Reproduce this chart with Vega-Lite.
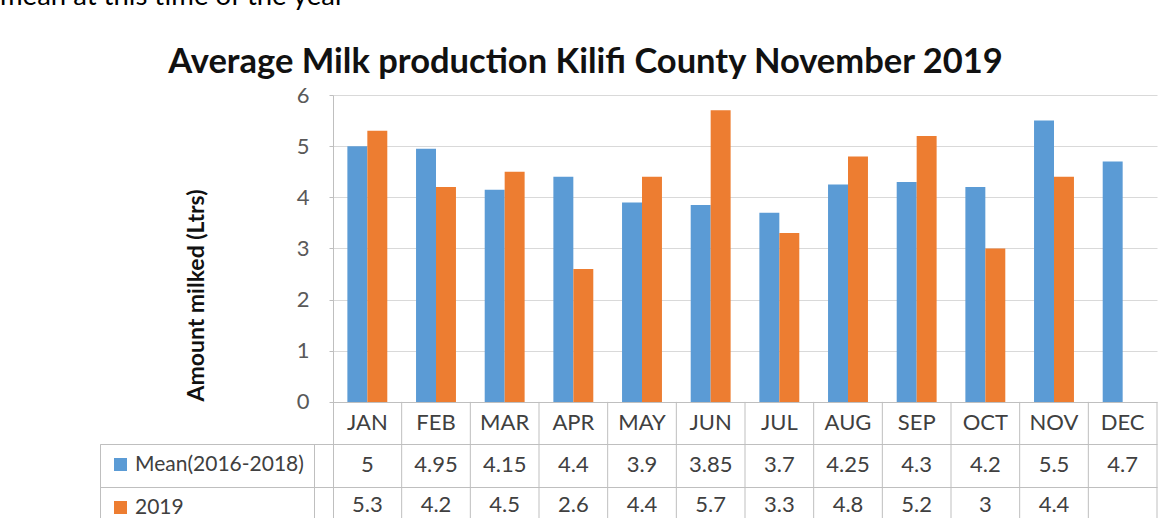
{
  "$schema": "https://vega.github.io/schema/vega-lite/v6.json",
  "width": 824,
  "height": 423,
  "autosize": {"type": "none"},
  "padding": {"left": 333, "top": 95, "right": 16, "bottom": 0},
  "background": "white",
  "title": {
    "text": "mean at this time of the year",
    "anchor": "start",
    "frame": "group",
    "orient": "top",
    "font": "Lato",
    "fontSize": 27.5,
    "fontWeight": "normal",
    "color": "#000000",
    "dx": -333,
    "offset": 12,
    "baseline": "alphabetic"
  },
  "data": {
    "values": [
      {"month": "JAN", "series": "Mean(2016-2018)", "value": 5},
      {"month": "FEB", "series": "Mean(2016-2018)", "value": 4.95},
      {"month": "MAR", "series": "Mean(2016-2018)", "value": 4.15},
      {"month": "APR", "series": "Mean(2016-2018)", "value": 4.4},
      {"month": "MAY", "series": "Mean(2016-2018)", "value": 3.9},
      {"month": "JUN", "series": "Mean(2016-2018)", "value": 3.85},
      {"month": "JUL", "series": "Mean(2016-2018)", "value": 3.7},
      {"month": "AUG", "series": "Mean(2016-2018)", "value": 4.25},
      {"month": "SEP", "series": "Mean(2016-2018)", "value": 4.3},
      {"month": "OCT", "series": "Mean(2016-2018)", "value": 4.2},
      {"month": "NOV", "series": "Mean(2016-2018)", "value": 5.5},
      {"month": "DEC", "series": "Mean(2016-2018)", "value": 4.7},
      {"month": "JAN", "series": "2019", "value": 5.3},
      {"month": "FEB", "series": "2019", "value": 4.2},
      {"month": "MAR", "series": "2019", "value": 4.5},
      {"month": "APR", "series": "2019", "value": 2.6},
      {"month": "MAY", "series": "2019", "value": 4.4},
      {"month": "JUN", "series": "2019", "value": 5.7},
      {"month": "JUL", "series": "2019", "value": 3.3},
      {"month": "AUG", "series": "2019", "value": 4.8},
      {"month": "SEP", "series": "2019", "value": 5.2},
      {"month": "OCT", "series": "2019", "value": 3},
      {"month": "NOV", "series": "2019", "value": 4.4},
      {"month": "DEC", "series": "2019", "value": null}
    ]
  },
  "encoding": {
    "x": {
      "field": "month",
      "type": "nominal",
      "sort": ["JAN","FEB","MAR","APR","MAY","JUN","JUL","AUG","SEP","OCT","NOV","DEC"],
      "scale": {"paddingInner": 0, "paddingOuter": 0},
      "axis": {
        "orient": "top",
        "labels": false,
        "ticks": false,
        "domain": false,
        "grid": false,
        "title": "Average Milk production Kilifi County November 2019",
        "titleFont": "Lato",
        "titleFontSize": 34.5,
        "titleFontWeight": "bold",
        "titleColor": "#111111",
        "titleX": 252,
        "titleY": -23,
        "titleAlign": "center",
        "titleBaseline": "alphabetic"
      }
    }
  },
  "layer": [
    {
      "mark": {"type": "bar"},
      "encoding": {
        "xOffset": {
          "field": "series",
          "sort": ["Mean(2016-2018)", "2019"],
          "scale": {"paddingInner": 0, "paddingOuter": 0.72}
        },
        "y": {
          "field": "value",
          "type": "quantitative",
          "scale": {"domain": [-2.27, 6], "nice": false, "zero": false},
          "axis": {
            "values": [0, 1, 2, 3, 4, 5, 6, -0.821, -1.662],
            "labelExpr": "datum.value < 0 ? '' : datum.label",
            "grid": true,
            "gridColor": {"condition": {"test": "datum.value <= 0", "value": "#bfbfbf"}, "value": "#d9d9d9"},
            "tickSize": {"condition": {"test": "datum.value < 0", "value": 233}, "value": 4},
            "tickColor": "#bfbfbf",
            "domainColor": "#bfbfbf",
            "labelFont": "Lato",
            "labelFontSize": 22,
            "labelColor": "#595959",
            "labelPadding": 20,
            "title": "Amount milked (Ltrs)",
            "titleFont": "Lato",
            "titleFontSize": 23,
            "titleFontWeight": "bold",
            "titleColor": "#111111",
            "titleX": -137,
            "titleY": 200,
            "titleAlign": "center",
            "titleBaseline": "middle"
          }
        },
        "y2": {"datum": 0},
        "color": {
          "field": "series",
          "type": "nominal",
          "sort": ["Mean(2016-2018)", "2019"],
          "scale": {"domain": ["Mean(2016-2018)", "2019"], "range": ["#5B9BD5", "#ED7D31"]},
          "legend": {
            "orient": "none",
            "legendX": -233,
            "legendY": 349,
            "title": null,
            "direction": "vertical",
            "symbolType": "square",
            "symbolSize": 169,
            "symbolStrokeWidth": 0,
            "labelFont": "Lato",
            "labelFontSize": 21,
            "labelColor": "#404040",
            "labelOffset": 4,
            "labelLimit": 300,
            "padding": 10,
            "rowPadding": 21,
            "strokeColor": "#bfbfbf"
          }
        }
      }
    },
    {
      "transform": [{"filter": "datum.series === 'Mean(2016-2018)'"}],
      "mark": {"type": "rule", "color": "#bfbfbf", "strokeWidth": 1},
      "encoding": {
        "x": {"field": "month", "type": "nominal", "sort": ["JAN","FEB","MAR","APR","MAY","JUN","JUL","AUG","SEP","OCT","NOV","DEC"], "bandPosition": 1},
        "y": {"datum": 0},
        "y2": {"datum": -2.27}
      }
    },
    {
      "transform": [{"filter": "datum.series === 'Mean(2016-2018)'"}],
      "mark": {"type": "text", "font": "Lato", "fontSize": 22, "color": "#404040", "baseline": "middle"},
      "encoding": {
        "y": {"datum": -0.41},
        "text": {"field": "month", "type": "nominal"}
      }
    },
    {
      "transform": [{"filter": "datum.series === 'Mean(2016-2018)'"}],
      "mark": {"type": "text", "font": "Lato", "fontSize": 22, "color": "#404040", "baseline": "middle"},
      "encoding": {
        "y": {"datum": -1.232},
        "text": {"field": "value", "type": "quantitative"}
      }
    },
    {
      "transform": [{"filter": "datum.series === '2019' && isValid(datum.value)"}],
      "mark": {"type": "text", "font": "Lato", "fontSize": 22, "color": "#404040", "baseline": "middle"},
      "encoding": {
        "y": {"datum": -2.02},
        "text": {"field": "value", "type": "quantitative"}
      }
    }
  ],
  "config": {
    "view": {"stroke": null},
    "font": "Lato"
  }
}
